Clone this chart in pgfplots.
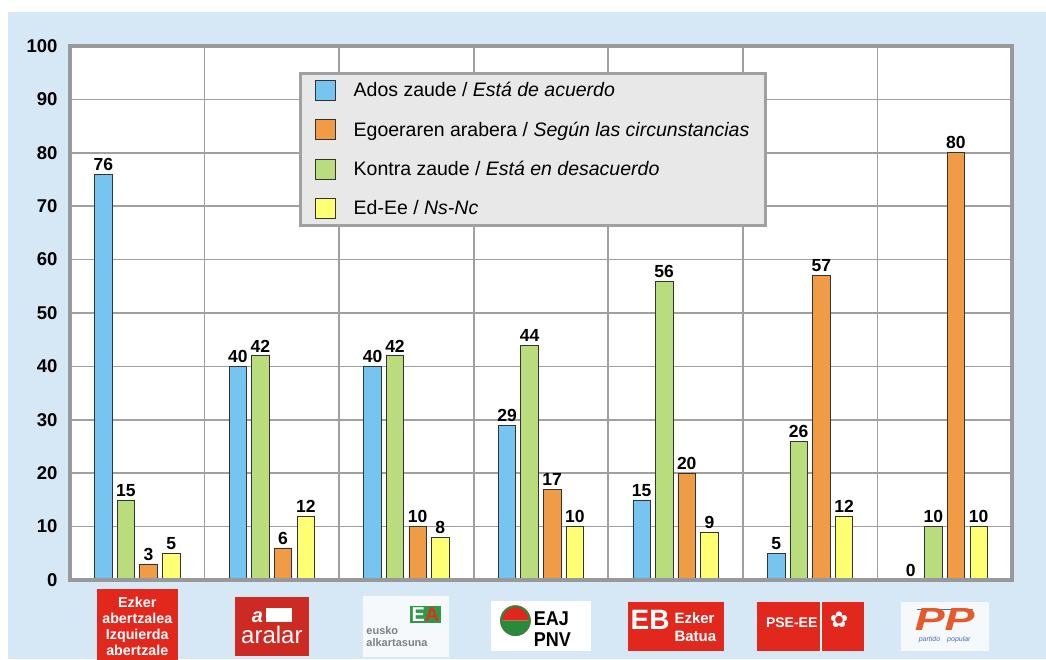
\documentclass[border=0pt]{standalone}
\usepackage{pgfplots}
\usepackage{pgfplotstable}
\usepackage{graphicx}
\pgfplotsset{compat=1.18}
\usepackage{fontspec}
\setmainfont{Liberation Sans}
\newfontfamily\symfont{DejaVu Sans}

\definecolor{bgblue}{HTML}{D6E8F5}
\definecolor{framegray}{HTML}{999999}
\definecolor{gridgray}{HTML}{A0A0A0}
\definecolor{legendfill}{HTML}{E8E8E8}
\definecolor{barblue}{HTML}{75C5F0}
\definecolor{barorange}{HTML}{F09C46}
\definecolor{bargreen}{HTML}{B9DD7C}
\definecolor{baryellow}{HTML}{FFFF73}
\definecolor{logored}{HTML}{E2271C}
\definecolor{aralarred}{HTML}{CC2A22}
\definecolor{eagreen}{HTML}{2E9A47}
\definecolor{eared}{HTML}{E03020}
\definecolor{pnvred}{HTML}{E0261D}
\definecolor{pnvgreen}{HTML}{2A8A3C}
\definecolor{pporange}{HTML}{E45A2A}
\definecolor{ppblue}{HTML}{4A6FB0}
\definecolor{ppteal}{HTML}{2D7F9A}
\definecolor{ppwhite}{HTML}{F5F9FB}

\pgfplotstableread{
x blue green orange yellow
0 76 15 3 5
1 40 42 6 12
2 40 42 10 8
3 29 44 17 10
4 15 56 20 9
5 5 26 57 12
6 0 10 80 10
}\data

\newcommand{\lbox}[4]{{\setlength{\fboxsep}{0pt}\colorbox{#1}{\parbox[c][#3][c]{#2}{\centering #4}}}}

\newcommand{\logoA}{\lbox{logored}{81pt}{74pt}{\color{white}\bfseries\fontsize{14.3}{16}\selectfont Ezker\\abertzalea\\Izquierda\\abertzale}}
\newcommand{\logoB}{\lbox{aralarred}{74pt}{59pt}{\color{white}{\fontsize{20}{20}\selectfont\bfseries\itshape a\hspace{3pt}\rule{26pt}{14pt}}\par\vspace{3pt}{\fontsize{24}{24}\selectfont aralar}}}
\newcommand{\logoC}{\lbox{ppwhite}{86pt}{61pt}{\raggedleft{\setlength{\fboxsep}{2pt}\colorbox{eagreen}{\fontsize{20}{20}\selectfont\bfseries\textcolor{white}{E}\textcolor{eared}{A}}}\hspace*{8pt}\par\vspace{1pt}\raggedright\color{gray}\bfseries\fontsize{11}{12}\selectfont\hspace*{3pt}eusko\\\hspace*{3pt}alkartasuna}}
\newcommand{\logoD}{\lbox{white}{100pt}{50pt}{\mbox{{\symfont\fontsize{40}{40}\selectfont\rlap{\textcolor{pnvred}{◓}}\textcolor{pnvgreen}{◒}}\hspace{1pt}\parbox[c]{50pt}{\raggedright\bfseries\fontsize{20}{21}\selectfont\scalebox{0.9}[1]{EAJ}\\\scalebox{0.9}[1]{PNV}}}}}
\newcommand{\logoE}{\lbox{logored}{96pt}{49pt}{\mbox{\color{white}\bfseries{\fontsize{28}{28}\selectfont EB}\hspace{5pt}\parbox[c]{46pt}{\raggedright\fontsize{15}{18}\selectfont Ezker\\Batua}}}}
\newcommand{\logoF}{\lbox{logored}{107pt}{49pt}{\mbox{\color{white}\bfseries\fontsize{14}{14}\selectfont PSE-EE\hspace{3pt}\vrule width 1.5pt height 26pt depth 23pt\hspace{8pt}{\symfont\fontsize{22}{22}\selectfont ✿}\hspace{6pt}}}}
\newcommand{\logoG}{\lbox{ppwhite}{88pt}{49pt}{\textcolor{ppteal}{\rule{56pt}{1.2pt}}\\[-3pt]{\color{pporange}\scalebox{1.4}[1]{\fontsize{32}{26}\selectfont\bfseries\itshape PP}}\\[-1pt]{\color{ppblue}\fontsize{7}{8}\selectfont\itshape partido\quad popular}}}

\pgfplotsset{
  mybar/.style={fill=#1, draw=black!80, line width=0.7pt,
    legend image code/.code={\draw[fill=#1, draw=black!80, line width=0.7pt] (0pt,-10pt) rectangle (20pt,10pt);}},
}

\begin{document}
\begin{tikzpicture}
\fill[white] (0pt,0pt) rectangle (1046pt,659pt);
\path[use as bounding box] (0pt,0pt) rectangle (1046pt,659pt);
\fill[bgblue] (8pt,0pt) rectangle (1046pt,647pt);
\begin{axis}[
  at={(70pt,79pt)}, anchor=south west,
  scale only axis, width=942pt, height=534pt,
  ybar, bar width=0.13,
  xmin=-0.5, xmax=6.5, ymin=0, ymax=100,
  ytick={0,10,...,100},
  xtick={0,1,2,3,4,5,6},
  xticklabels={{\logoA},{\logoB},{\logoC},{\logoD},{\logoE},{\logoF},{\logoG}},
  minor xtick={0.5,1.5,...,5.5},
  xminorgrids=true, ymajorgrids=true, xmajorgrids=false,
  grid style={draw=gridgray, line width=1.6pt},
  minor grid style={draw=gridgray, line width=1.6pt},
  major tick length=0pt, minor tick length=0pt,
  axis line style={draw=framegray, line width=3.5pt},
  axis background/.style={fill=white},
  /pgf/number format/assume math mode=true,
  yticklabel style={font=\bfseries\fontsize{18.5}{18.5}\selectfont, xshift=-9pt},
  xticklabel style={anchor=center, yshift=-46pt},
  nodes near coords,
  every node near coord/.append style={font=\bfseries\fontsize{17.5}{17.5}\selectfont, text=black},
  legend cell align=left,
  legend style={at={(0.2436,0.952)}, anchor=north west, draw=gridgray, line width=3pt,
    fill=legendfill, font=\fontsize{19.5}{19.5}\selectfont,
    inner xsep=14pt, inner ysep=7pt, row sep=18.5pt, column sep=16pt,
    nodes={inner sep=2pt, text depth=0.15em}},
]
\addplot[mybar=barblue, bar shift=-0.252] table[x=x,y=blue]{\data};
\addlegendentry{Ados zaude / \textit{Está de acuerdo}}
\addplot[mybar=barorange, bar shift=0.083] table[x=x,y=orange]{\data};
\addlegendentry{Egoeraren arabera / \textit{Según las circunstancias}}
\addplot[mybar=bargreen, bar shift=-0.085] table[x=x,y=green]{\data};
\addlegendentry{Kontra zaude / \textit{Está en desacuerdo}}
\addplot[mybar=baryellow, bar shift=0.252] table[x=x,y=yellow]{\data};
\addlegendentry{Ed-Ee / \textit{Ns-Nc}}
\draw[framegray, line width=3.5pt] (rel axis cs:0,0) -- (rel axis cs:1,0);
\end{axis}
\end{tikzpicture}
\end{document}
